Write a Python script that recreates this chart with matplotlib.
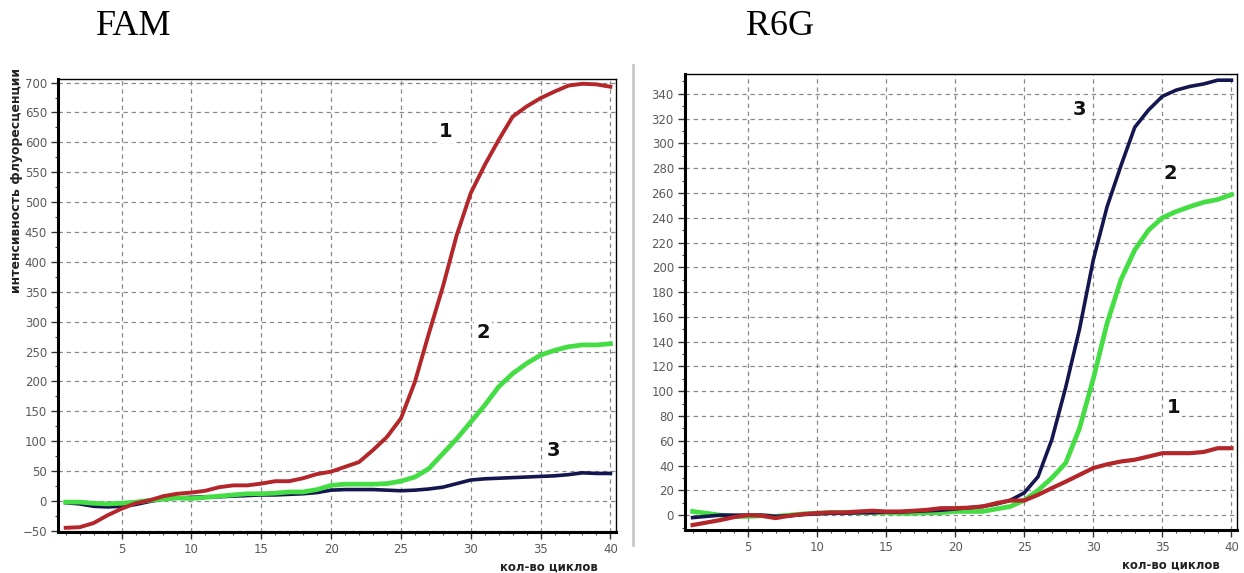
import matplotlib
matplotlib.use("Agg")
import matplotlib.pyplot as plt
from matplotlib.ticker import MultipleLocator
from matplotlib.lines import Line2D

cycles = list(range(1, 41))

# FAM channel
fam_1 = [-45, -44, -37, -24, -13, -4, 1, 8, 12, 14, 17, 23, 26, 26, 29, 33, 33, 38, 45, 49,
         57, 65, 85, 107, 138, 199, 280, 358, 445, 515, 562, 604, 643, 660, 674, 685, 695, 698, 697, 693]
fam_2 = [-2, -2, -4, -5, -4, -2, 1, 3, 5, 4, 6, 8, 10, 12, 12, 13, 15, 15, 19, 26,
         28, 28, 28, 29, 33, 40, 54, 79, 104, 132, 160, 191, 213, 230, 244, 252, 258, 261, 261, 263]
fam_3 = [-3, -5, -9, -10, -9, -6, -1, 3, 5, 6, 7, 7, 8, 9, 10, 10, 11, 12, 14, 18,
         19, 19, 19, 18, 17, 18, 20, 23, 29, 35, 37, 38, 39, 40, 41, 42, 44, 47, 46, 46]

# R6G channel
r6g_1 = [-8, -6, -4, -1.6, 0, -0.5, -2.4, -0.5, 0.8, 1.6, 2.2, 2.2, 2.9, 3.5, 2.9, 2.9, 3.5, 4.3, 5.6, 5.6,
         6, 7, 9.7, 11.8, 11.8, 16.4, 21.8, 27, 32.5, 38, 41, 43.3, 44.7, 47.3, 50, 50, 50, 51, 54, 54]
r6g_2 = [3, 1.5, 0, -1, -1, -0.5, -1, 0, 1, 1.5, 2, 2, 2, 2, 2, 1.5, 1.5, 2, 2, 3,
         3, 3, 5, 7, 12, 20, 30, 42, 70, 110, 155, 190, 214, 230, 240, 245, 249, 252.5, 254.7, 258.7]
r6g_3 = [-2, -1, 0, 0, 0, 0, -1, -0.5, 0.5, 1, 1.5, 1.5, 2, 2, 2.5, 2.5, 3, 3.5, 4, 5,
         6, 7, 9, 12, 18, 31, 61, 103, 150, 206, 249, 282, 313, 327, 338, 343, 346, 348, 351, 351]

panel_titles = ["FAM", "R6G"]
ylabel_text = "интенсивность флуоресценции"
xlabel_text = "кол-во циклов"

RED = "#b3262a"
GREEN = "#44dd44"
NAVY = "#14164f"

W, H = 1244, 573
fig = plt.figure(figsize=(W / 100, H / 100), dpi=100)
fig.patch.set_facecolor("white")


def px_axes(left, top, right, bottom):
    return fig.add_axes([left / W, 1 - bottom / H, (right - left) / W, (bottom - top) / H])


def style(ax, ymajor, yminor):
    ax.set_xlim(0.45, 40.4)
    ax.xaxis.set_major_locator(MultipleLocator(5))
    ax.xaxis.set_minor_locator(MultipleLocator(1))
    ax.yaxis.set_major_locator(MultipleLocator(ymajor))
    ax.yaxis.set_minor_locator(MultipleLocator(yminor))
    ax.grid(True, which="major", color="#8a8a8a", linestyle=(0, (3.5, 3)), linewidth=0.9)
    ax.set_axisbelow(True)
    for side in ("left", "bottom"):
        ax.spines[side].set_linewidth(2.2)
        ax.spines[side].set_color("black")
    for side in ("top", "right"):
        ax.spines[side].set_linewidth(1.0)
        ax.spines[side].set_color("black")
    ax.tick_params(which="major", direction="out", length=5, width=1, color="#333333",
                   labelsize=8.5, labelcolor="#5a5a5a", pad=3)
    ax.tick_params(which="minor", direction="out", length=2.5, width=0.8, color="#444444")
    ax.tick_params(axis="x", pad=3)
    ax.set_xlabel(xlabel_text, fontsize=8.5, fontweight="bold", color="#222222")
    ax.xaxis.set_label_coords(0.88, -0.062)


def tag(ax, text, x, y):
    ax.text(x, y, text, fontsize=14, fontweight="bold", color="#111111", ha="center", va="center",
            bbox=dict(facecolor="white", edgecolor="none", pad=1.5), zorder=5)


# FAM panel
ax1 = px_axes(58, 79, 616, 532)
ax1.plot(cycles, fam_3, color=NAVY, lw=2.6, zorder=3)
ax1.plot(cycles, fam_2, color=GREEN, lw=3.4, zorder=3)
ax1.plot(cycles, fam_1, color=RED, lw=2.8, zorder=4)
ax1.set_ylim(-52, 706)
style(ax1, 50, 25)
ax1.set_ylabel(ylabel_text, fontsize=9, fontweight="bold", color="#222222")
ax1.yaxis.set_label_coords(-0.062, 0.775)
tag(ax1, "1", 28.2, 618)
tag(ax1, "2", 30.9, 281)
tag(ax1, "3", 35.9, 84)

# R6G panel
ax2 = px_axes(685, 74, 1237, 530)
ax2.plot(cycles, r6g_2, color=GREEN, lw=3.4, zorder=3)
ax2.plot(cycles, r6g_3, color=NAVY, lw=2.6, zorder=3)
ax2.plot(cycles, r6g_1, color=RED, lw=3.0, zorder=4)
ax2.set_ylim(-12, 356)
style(ax2, 20, 10)
tag(ax2, "3", 29.0, 327)
tag(ax2, "2", 35.6, 276)
tag(ax2, "1", 35.8, 87)

# panel titles
fig.text(96 / W, 1 - 35 / H, panel_titles[0], fontsize=26, family="Liberation Serif",
         ha="left", va="baseline", color="black")
fig.text(746 / W, 1 - 35 / H, panel_titles[1], fontsize=26, family="Liberation Serif",
         ha="left", va="baseline", color="black")

# separator between the two panels
fig.add_artist(Line2D([633 / W, 633 / W], [1 - 65 / H, 1 - 545 / H], color="#c8c8c8", lw=2,
                      transform=fig.transFigure))

fig.savefig("out.png", dpi=100, facecolor="white")
